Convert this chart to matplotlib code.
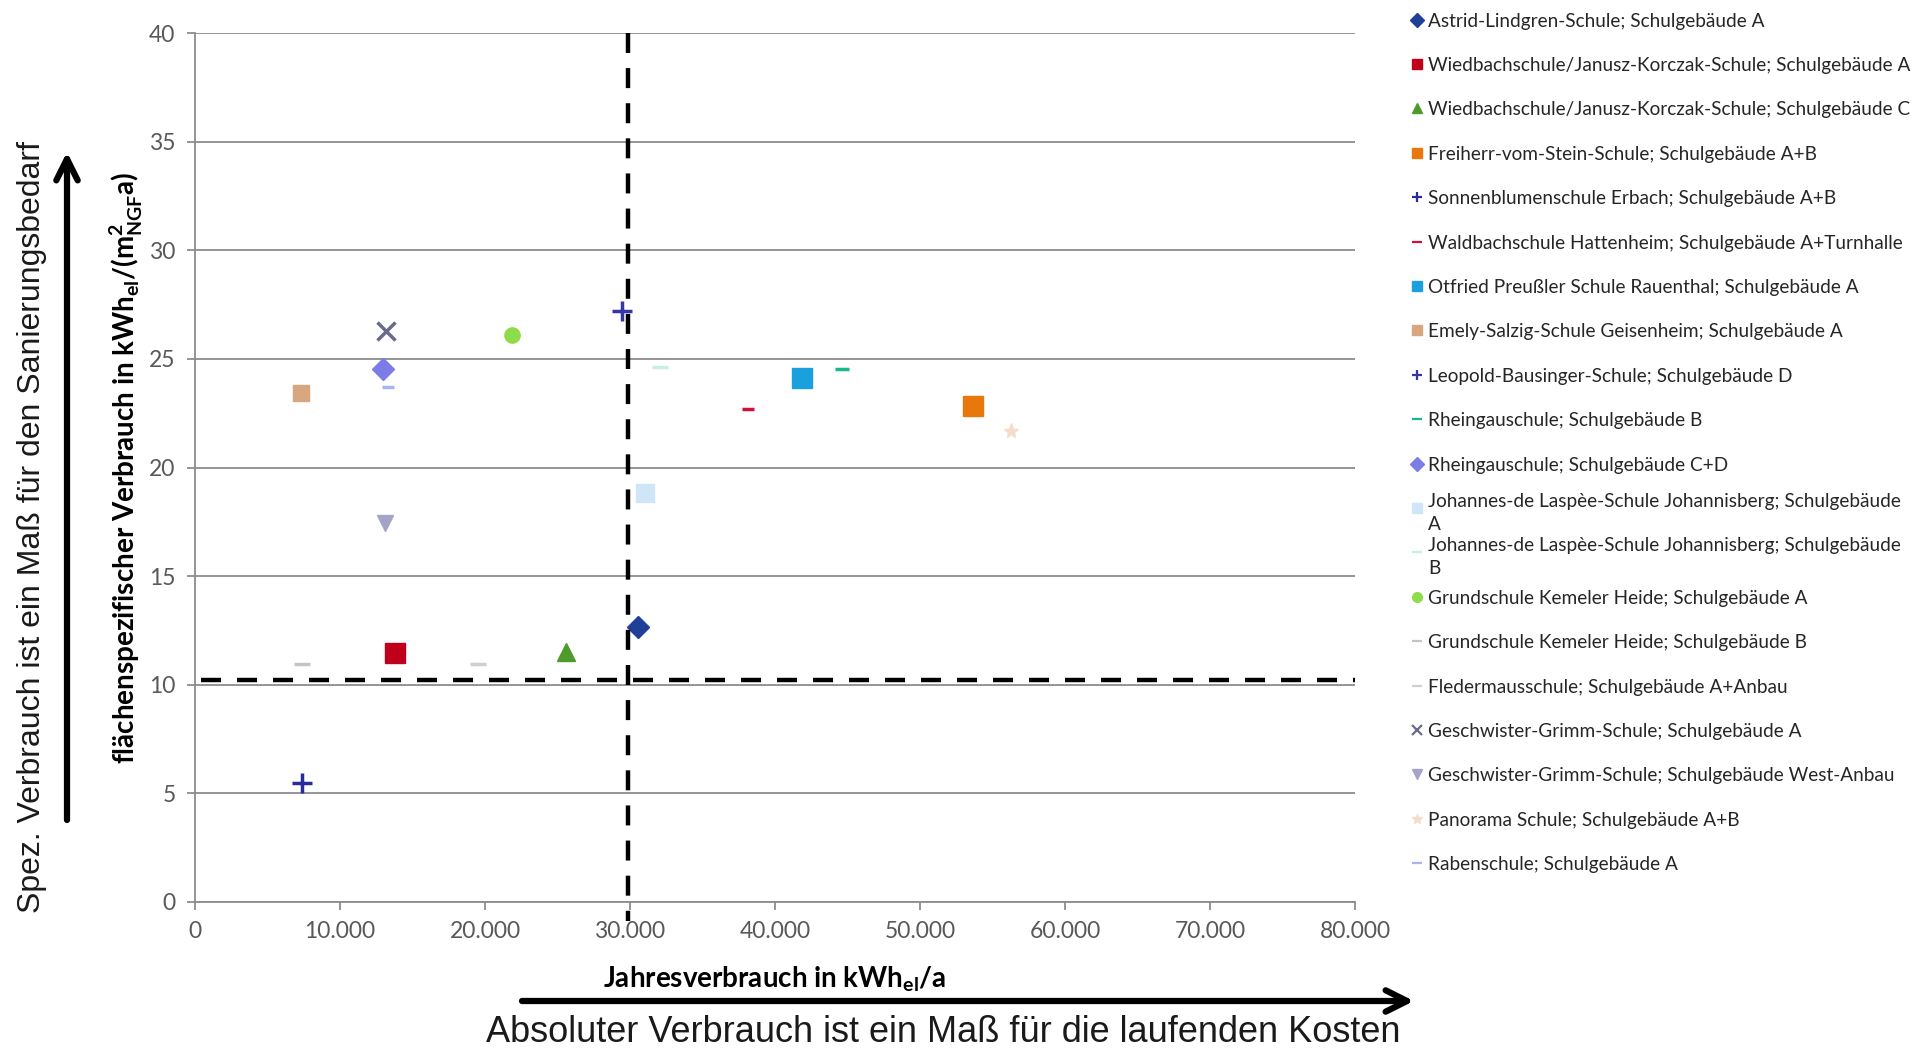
import matplotlib
matplotlib.use("Agg")
import matplotlib.pyplot as plt
from matplotlib.ticker import FuncFormatter

# --- Data ---
schools = [
    "Astrid-Lindgren-Schule; Schulgebäude A",
    "Wiedbachschule/Janusz-Korczak-Schule; Schulgebäude A",
    "Wiedbachschule/Janusz-Korczak-Schule; Schulgebäude C",
    "Freiherr-vom-Stein-Schule; Schulgebäude A+B",
    "Sonnenblumenschule Erbach; Schulgebäude A+B",
    "Waldbachschule Hattenheim; Schulgebäude A+Turnhalle",
    "Otfried Preußler Schule Rauenthal; Schulgebäude A",
    "Emely-Salzig-Schule Geisenheim; Schulgebäude A",
    "Leopold-Bausinger-Schule; Schulgebäude D",
    "Rheingauschule; Schulgebäude B",
    "Rheingauschule; Schulgebäude C+D",
    "Johannes-de Laspèe-Schule Johannisberg; Schulgebäude\nA",
    "Johannes-de Laspèe-Schule Johannisberg; Schulgebäude\nB",
    "Grundschule Kemeler Heide; Schulgebäude A",
    "Grundschule Kemeler Heide; Schulgebäude B",
    "Fledermausschule; Schulgebäude A+Anbau",
    "Geschwister-Grimm-Schule; Schulgebäude A",
    "Geschwister-Grimm-Schule; Schulgebäude West-Anbau",
    "Panorama Schule; Schulgebäude A+B",
    "Rabenschule; Schulgebäude A",
]
annual_kwh = [30550, 13790, 25590, 53660, 7380, 38140, 41860, 7310, 29450, 44620,
              12970, 31030, 32070, 21860, 7380, 19520, 13170, 13100, 56250, 13300]
specific_kwh = [12.66, 11.46, 11.5, 22.83, 5.48, 22.69, 24.12, 23.43, 27.2, 24.53,
                24.53, 18.83, 24.62, 26.1, 10.95, 10.95, 26.28, 17.45, 21.7, 23.7]

mean_annual = 29850
mean_specific = 10.2

x_ticks = [0, 10000, 20000, 30000, 40000, 50000, 60000, 70000, 80000]
y_ticks = [0, 5, 10, 15, 20, 25, 30, 35, 40]

# --- Styles (one per series) ---
markers = ['D', 's', '^', 's', '+', '_', 's', 's', '+', '_',
           'D', 's', '_', 'o', '_', '_', 'x', 'v', '*', '_']
colors = ['#1f3f99', '#c0001a', '#4e9a2a', '#e8780c', '#2a2a9c', '#d0103a',
          '#1aa0dc', '#d8a77f', '#3535a8', '#17b890', '#7c7ce6', '#cfe6f7',
          '#c8eedd', '#8fdc4a', '#c4c4c4', '#cfcfcf', '#6a6a8a', '#a4a4c8',
          '#f6dccb', '#a9b5f0']
msizes = [11, 14, 13, 15, 14, 9, 15, 12, 14, 10, 11, 13, 11, 11, 11, 11, 13, 11, 11, 9]

BASE = ['Lato', 'DejaVu Sans']
NARROW = ['Liberation Sans Narrow', 'Liberation Sans', 'DejaVu Sans']
GRID = '#8c8c8c'
TICK_COL = '#595959'

W, H = 1926, 1054
fig = plt.figure(figsize=(W / 100, H / 100), dpi=100)
ax = fig.add_axes([195 / W, 1 - 902 / H, 1160 / W, 869 / H])

for x, y, m, c, s in zip(annual_kwh, specific_kwh, markers, colors, msizes):
    mew = 2.5 if m in ('_', '+', 'x') else 1
    ax.plot([x], [y], marker=m, ls='none', ms=s, color=c, mec=c, mew=mew, zorder=3)

# reference lines (dashed)
ax.plot([mean_annual, mean_annual], [40, -0.87], color='black', lw=3.2,
        dashes=(4.5, 3.4), clip_on=False, zorder=4)
ax.plot([400, 80000], [mean_specific, mean_specific], color='black', lw=3.2,
        dashes=(4.5, 3.6), clip_on=False, zorder=4)

ax.set_xlim(0, 80000)
ax.set_ylim(0, 40)
ax.set_xticks(x_ticks)
ax.set_yticks(y_ticks)
ax.xaxis.set_major_formatter(FuncFormatter(lambda v, p: f"{int(v):,}".replace(',', '.')))
ax.yaxis.set_major_formatter(FuncFormatter(lambda v, p: f"{int(v)}"))
ax.grid(axis='y', color=GRID, lw=1.3)
ax.set_axisbelow(True)
for side in ('top', 'right'):
    ax.spines[side].set_visible(False)
for side in ('left', 'bottom'):
    ax.spines[side].set_color(GRID)
    ax.spines[side].set_linewidth(1.3)
ax.tick_params(direction='out', length=6, width=1.3, color=GRID,
               labelcolor=TICK_COL, labelsize=16.5, pad=8)
for lab in ax.get_xticklabels() + ax.get_yticklabels():
    lab.set_family(BASE)

ax.set_xlabel(r"Jahresverbrauch in kWh$_{\mathregular{el}}$/a", family=BASE,
              fontweight='bold', fontsize=20, labelpad=16)
ax.set_ylabel(r"flächenspezifischer Verbrauch in kWh$_{\mathregular{el}}$/(m$^{\mathregular{2}}_{\mathregular{NGF}}$a)",
              family=BASE, fontweight='bold', fontsize=20, labelpad=3)

# overlay in pixel coordinates for arrows, outer captions and legend
ov = fig.add_axes([0, 0, 1, 1])
ov.set_xlim(0, W)
ov.set_ylim(H, 0)
ov.axis('off')
ov.patch.set_visible(False)

arrow = dict(arrowstyle='->,head_length=0.7,head_width=0.35', lw=4.5, color='black',
             shrinkA=0, shrinkB=0, mutation_scale=22)
ov.annotate('', xy=(67, 152), xytext=(67, 820), arrowprops=arrow)
ov.annotate('', xy=(1414, 1001), xytext=(522, 1001), arrowprops=arrow)

ov.text(32, 527, "Spez. Verbrauch ist ein Maß für den Sanierungsbedarf", rotation=90,
        ha='center', va='center', family=NARROW, fontsize=23, color='#1a1a1a')
ov.text(943, 1033, "Absoluter Verbrauch ist ein Maß für die laufenden Kosten",
        ha='center', va='center', family=NARROW, fontsize=26, color='#1a1a1a')

# legend, drawn as a fixed-pitch list like the source chart
for i, (name, m, c) in enumerate(zip(schools, markers, colors)):
    yc = 19.6 + i * 44.4
    mew = 1.6 if m in ('_', '+', 'x') else 1
    ov.plot([1417], [yc], marker=m, ls='none', ms=7, color=c, mec=c, mew=mew)
    ov.text(1428, yc, name, ha='left', va='center_baseline', family=BASE,
            fontsize=13.7, color='#262626', linespacing=1.45)

fig.savefig("out.png", dpi=100)
